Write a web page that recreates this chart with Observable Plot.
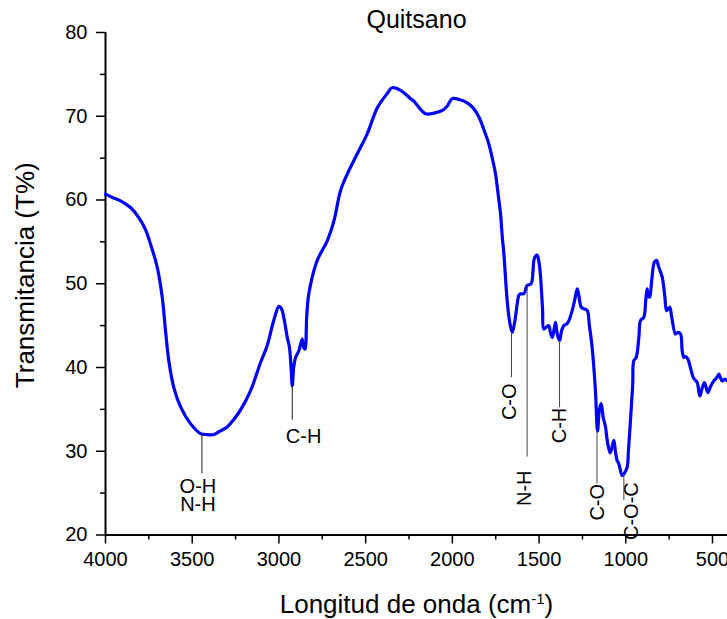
<!DOCTYPE html>
<html>
<head>
<meta charset="utf-8">
<script src="https://cdn.jsdelivr.net/npm/d3@7"></script>
<script src="https://cdn.jsdelivr.net/npm/@observablehq/plot@0.6"></script>
<style>
  html, body { margin: 0; padding: 0; background: #fff; overflow: hidden; }
</style>
</head>
<body>
<div id="chart"></div>
<script>
// FTIR spectrum of chitosan: wavenumber (cm-1) and transmittance (%)
const wavenumber = [
  4000, 3960, 3913, 3856, 3808, 3770, 3740, 3702, 3673, 3654, 3635, 3606, 3567, 3510,
  3452, 3420, 3375, 3340, 3298, 3260, 3222, 3164, 3106, 3068, 3030, 3000, 2985, 2965,
  2952, 2940, 2930, 2923, 2915, 2904, 2885, 2866, 2858, 2850, 2840, 2830, 2808, 2779,
  2750, 2722, 2683, 2645, 2606, 2549, 2491, 2433, 2376, 2347, 2299, 2241, 2222, 2155,
  2100, 2058, 2030, 2001, 1960, 1914, 1880, 1847, 1820, 1790, 1770, 1751, 1735, 1722,
  1713, 1703, 1684, 1670, 1655, 1640, 1626, 1617, 1607, 1588, 1575, 1569, 1546, 1535,
  1530, 1520, 1511, 1500, 1492, 1480, 1473, 1460, 1444, 1435, 1424, 1414, 1405, 1395,
  1382, 1370, 1357, 1340, 1328, 1309, 1295, 1280, 1270, 1257, 1240, 1222, 1210, 1194,
  1175, 1163, 1152, 1142, 1130, 1117, 1107, 1090, 1069, 1060, 1050, 1040, 1021, 1010,
  992, 985, 973, 960, 954, 940, 925, 915, 896, 885, 877, 870, 862, 850,
  835, 823, 810, 790, 775, 765, 755, 746, 735, 713, 700, 684, 675, 665,
  655, 642, 625, 611, 600, 588, 573, 560, 546, 527, 510, 492, 475, 463,
  455, 444, 430, 415
];
const transmittance = [
  60.7, 60.3, 59.9, 59.1, 57.9, 56.5, 54.7, 52.0, 48.4, 44.4, 40.8, 37.6, 35.3, 33.3,
  32.1, 32.0, 32.0, 32.4, 32.9, 33.8, 34.9, 37.2, 40.6, 42.6, 45.6, 47.3, 47.0, 45.2,
  43.6, 42.5, 40.0, 37.8, 40.0, 41.2, 42.0, 43.4, 42.4, 42.2, 46.0, 48.5, 50.8, 52.8,
  54.0, 55.1, 57.5, 61.1, 63.1, 65.5, 67.9, 71.0, 72.7, 73.4, 73.1, 72.1, 71.8, 70.3,
  70.4, 70.7, 71.2, 72.1, 72.0, 71.6, 71.0, 69.9, 68.5, 66.7, 65.0, 63.1, 60.5, 58.3,
  55.8, 53.6, 48.0, 45.5, 44.2, 45.5, 47.6, 48.6, 48.8, 48.8, 49.5, 49.8, 50.0, 51.5,
  52.8, 53.3, 53.4, 52.5, 51.0, 47.0, 44.6, 44.8, 45.0, 44.2, 43.6, 44.5, 45.4, 44.0,
  43.2, 44.4, 45.0, 45.2, 45.6, 46.8, 48.0, 49.4, 48.5, 47.2, 47.0, 46.8, 45.0, 42.4,
  37.2, 32.4, 35.0, 35.7, 34.0, 32.9, 31.3, 29.8, 31.3, 30.0, 28.9, 28.5, 27.1, 27.3,
  28.1, 30.0, 33.7, 38.0, 40.8, 41.2, 43.5, 45.6, 46.0, 48.0, 49.4, 48.6, 48.4, 50.5,
  52.6, 52.8, 52.0, 50.8, 48.5, 46.8, 47.0, 47.2, 46.0, 44.0, 44.2, 44.0, 42.0, 41.2,
  41.3, 41.0, 39.8, 38.8, 38.5, 38.2, 36.6, 37.5, 38.2, 37.0, 37.8, 38.4, 38.8, 39.2,
  38.8, 38.4, 38.6, 38.4
];

// Band assignments drawn with vertical leader lines and rotated labels
const bandLabel  = ["C-O", "N-H", "C-H", "C-O", "C-O-C"];
const bandWn     = [1659, 1569, 1382, 1166, 1011];
const bandTop    = [44.2, 49.8, 43.2, 32.4, 27.2];
const bandBottom = [38.8, 29.3, 35.2, 26.1, 24.1];
const bandTextWn = [1672, 1586, 1382, 1162, 966];
const bandTextT  = [38.1, 27.7, 35.2, 26.1, 26.3];

// Bands whose labels are written horizontally below the leader line
const hBandLabel  = ["O-H\nN-H", "C-H"];
const hBandWn     = [3444, 2923];
const hBandTop    = [32.1, 37.8];
const hBandBottom = [27.3, 33.7];
const hBandTextWn = [3467, 2858];
const hBandTextT  = [26.5, 32.5];

// Axis ticks
const xTicks = [4000, 3500, 3000, 2500, 2000, 1500, 1000, 500];
const xMinorTicks = [3750, 3250, 2750, 2250, 1750, 1250, 750];
const yTicks = [20, 30, 40, 50, 60, 70, 80];
const yMinorTicks = [25, 35, 45, 55, 65, 75];

const spectrum = wavenumber.map((wn, i) => ({wn, t: transmittance[i]}));
const bands = bandLabel.map((label, i) => ({
  label, wn: bandWn[i], top: bandTop[i], bottom: bandBottom[i], textWn: bandTextWn[i], textT: bandTextT[i]
}));
const hBands = hBandLabel.map((label, i) => ({
  label, wn: hBandWn[i], top: hBandTop[i], bottom: hBandBottom[i], textWn: hBandTextWn[i], textT: hBandTextT[i]
}));

const font = "'Liberation Sans', Arial, Helvetica, sans-serif";

const chart = Plot.plot({
  width: 727,
  height: 619,
  marginLeft: 105,
  marginRight: 0,
  marginTop: 32,
  marginBottom: 84.5,
  style: {fontFamily: font, fontSize: "20px", color: "black", background: "white"},
  x: {domain: [4000, 413.5], label: null},
  y: {domain: [20, 80], label: null},
  marks: [
    Plot.axisX({ticks: xMinorTicks, tickSize: 5, tickFormat: () => "", strokeWidth: 1.5}),
    Plot.axisX({ticks: xTicks, tickSize: 9, tickPadding: 8, tickFormat: d => String(d), fontSize: 20, strokeWidth: 1.5}),
    Plot.axisY({ticks: yMinorTicks, tickSize: 5, tickFormat: () => "", strokeWidth: 1.5}),
    Plot.axisY({ticks: yTicks, tickSize: 9, tickPadding: 9, tickFormat: d => String(d), fontSize: 20, strokeWidth: 1.5}),
    Plot.ruleY([20], {stroke: "black", strokeWidth: 2}),
    Plot.ruleX([4000], {stroke: "black", strokeWidth: 2}),
    Plot.line(spectrum, {x: "wn", y: "t", stroke: "#0000ff", strokeWidth: 3.2, curve: "catmull-rom"}),
    Plot.ruleX(bands, {x: "wn", y1: "top", y2: "bottom", stroke: "#444", strokeWidth: 1}),
    Plot.ruleX(hBands, {x: "wn", y1: "top", y2: "bottom", stroke: "#222", strokeWidth: 1}),
    Plot.text(bands, {
      x: "textWn", y: "textT", text: "label", rotate: -90,
      textAnchor: "end", lineAnchor: "middle", fontSize: 20, fill: "black"
    }),
    Plot.text(hBands, {
      x: "textWn", y: "textT", text: "label",
      lineAnchor: "top", lineHeight: 0.9, fontSize: 20, fill: "black"
    }),
    Plot.text(["Quitsano"], {frameAnchor: "top", lineAnchor: "top", dy: -22, fontSize: 25, fill: "black"}),
    Plot.text(["Transmitancia (T%)"], {
      frameAnchor: "left", rotate: -90, textAnchor: "middle", lineAnchor: "middle",
      dx: -80, dy: -8.5, fontSize: 26, fill: "black"
    }),
    Plot.text(["Longitud de onda (cm-1)"], {
      frameAnchor: "bottom", textAnchor: "middle", lineAnchor: "bottom", dy: 78, fontSize: 26, fill: "black"
    })
  ]
});

// Superscript for the unit in the x-axis title
d3.select(chart).selectAll("text")
  .filter(function () { return this.textContent === "Longitud de onda (cm-1)"; })
  .each(function () {
    const t = d3.select(this);
    t.text(null);
    t.append("tspan").text("Longitud de onda (cm");
    t.append("tspan").attr("dy", "-9.4").attr("font-size", "15px").text("-1");
    t.append("tspan").attr("dy", "9.4").text(")");
  });

document.getElementById("chart").appendChild(chart);
</script>
</body>
</html>
